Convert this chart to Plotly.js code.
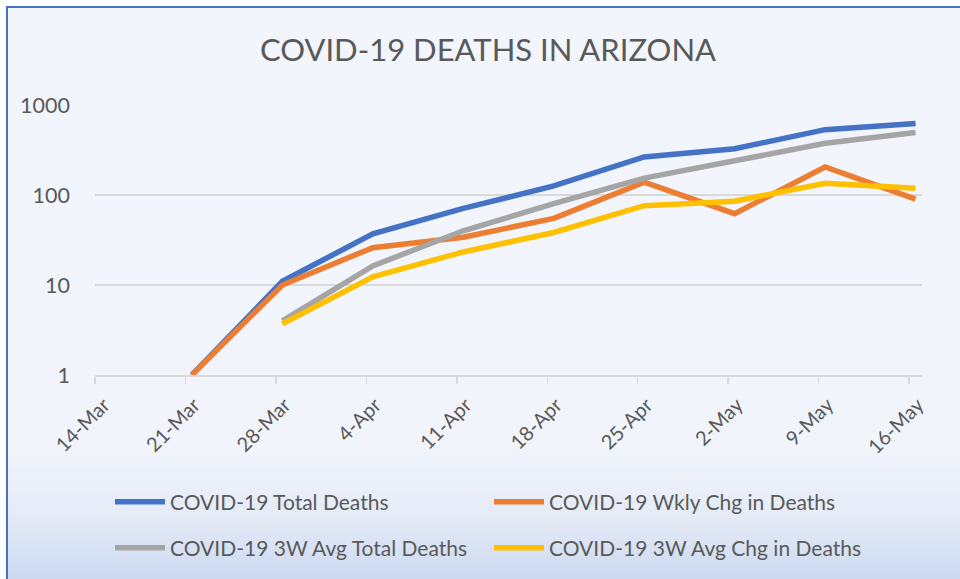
<!DOCTYPE html>
<html>
<head>
<meta charset="utf-8">
<script src="https://cdn.plot.ly/plotly-3.0.1.min.js"></script>
<style>
  html, body { margin: 0; padding: 0; background: #ffffff; }
  #frame {
    position: absolute; left: 6px; top: 6px; width: 960px; height: 580px;
    border-left: 2px solid #4472C4; border-top: 2px solid #4472C4;
    background: linear-gradient(to bottom, #F2F5FC 0%, #F1F4FB 76%, #E4EBF7 88%, #C8D6EF 100%);
  }
  #chart { position: absolute; left: 0; top: 0; width: 960px; height: 579px; }
</style>
</head>
<body>
<div id="frame"></div>
<div id="chart"></div>
<script>
// ---- data ----
const weekDates = ['2020-03-21','2020-03-28','2020-04-04','2020-04-11','2020-04-18','2020-04-25','2020-05-02','2020-05-09','2020-05-16'];
const totalDeaths = [1, 11, 37, 71, 126, 265, 327, 532, 622];
const wklyChgDeaths = [1, 10, 26, 34, 55, 139, 62, 205, 90];
const avg3wTotalDeaths = [null, 4, 16.3, 40, 80, 154, 240, 375, 494];
const avg3wChgDeaths = [null, 3.7, 12.3, 23.3, 38.3, 76, 85.3, 135.3, 119];
const tickDates = ['2020-03-14','2020-03-21','2020-03-28','2020-04-04','2020-04-11','2020-04-18','2020-04-25','2020-05-02','2020-05-09','2020-05-16'];
const tickLabels = ['14-Mar','21-Mar','28-Mar','4-Apr','11-Apr','18-Apr','25-Apr','2-May','9-May','16-May'];
const yTickVals = [1, 10, 100, 1000];
const yTickText = ['1', '10', '100', '1000'];
const seriesNames = ['COVID-19 Total Deaths', 'COVID-19 Wkly Chg in Deaths', 'COVID-19 3W Avg Total Deaths', 'COVID-19 3W Avg Chg in Deaths'];
const seriesColors = ['#4472C4', '#ED7D31', '#A5A5A5', '#FFC000'];

const FONT = 'Lato, "Open Sans", sans-serif';
const TXT = '#595959';
const DAY = 86400000;

function mk(y, i, legendId) {
  return {
    type: 'scatter', mode: 'lines', x: weekDates, y: y, name: seriesNames[i],
    xperiod: DAY, xperiodalignment: 'middle',
    line: { color: seriesColors[i], width: 5.5 },
    legend: legendId, connectgaps: false
  };
}
const traces = [
  mk(totalDeaths, 0, 'legend'),
  mk(wklyChgDeaths, 1, 'legend'),
  mk(avg3wTotalDeaths, 2, 'legend2'),
  mk(avg3wChgDeaths, 3, 'legend2')
];

const legendCommon = {
  orientation: 'h', xref: 'container', yref: 'container', xanchor: 'left', yanchor: 'middle',
  entrywidth: 314, entrywidthmode: 'pixels', bgcolor: 'rgba(0,0,0,0)',
  font: { family: FONT, size: 21, color: TXT }, itemwidth: 50, traceorder: 'normal'
};

const layout = {
  width: 960, height: 579,
  paper_bgcolor: 'rgba(0,0,0,0)', plot_bgcolor: 'rgba(0,0,0,0)',
  margin: { l: 95, r: 38, t: 105, b: 204 },
  title: {
    text: 'COVID-19 DEATHS IN ARIZONA', xref: 'container', yref: 'container',
    x: 488 / 960, xanchor: 'center', y: 1 - 50 / 579, yanchor: 'middle',
    font: { family: FONT, size: 31, color: TXT }
  },
  xaxis: {
    type: 'date', range: ['2020-03-14', '2020-05-17'],
    tickvals: tickDates, ticktext: tickLabels, tickangle: -45,
    showgrid: false, zeroline: false,
    showline: true, linecolor: '#D9D9D9', linewidth: 1.5,
    ticks: 'outside', ticklen: 7, tickwidth: 1.5, tickcolor: '#D9D9D9',
    ticklabelshift: 9, ticklabelstandoff: 2,
    tickfont: { family: FONT, size: 20, color: TXT }
  },
  yaxis: {
    type: 'log', range: [0, 3],
    tickvals: yTickVals, ticktext: yTickText,
    showgrid: true, gridcolor: '#D9D9D9', gridwidth: 1.5,
    zeroline: false, showline: false, ticks: '', ticklabelstandoff: 24,
    tickfont: { family: FONT, size: 21.5, color: TXT }
  },
  legend: Object.assign({}, legendCommon, { x: 110 / 960, y: 1 - 502 / 579 }),
  legend2: Object.assign({}, legendCommon, { x: 110 / 960, y: 1 - 548 / 579 }),
  showlegend: true
};

Plotly.newPlot('chart', traces, layout, { displayModeBar: false, staticPlot: true });
</script>
</body>
</html>
